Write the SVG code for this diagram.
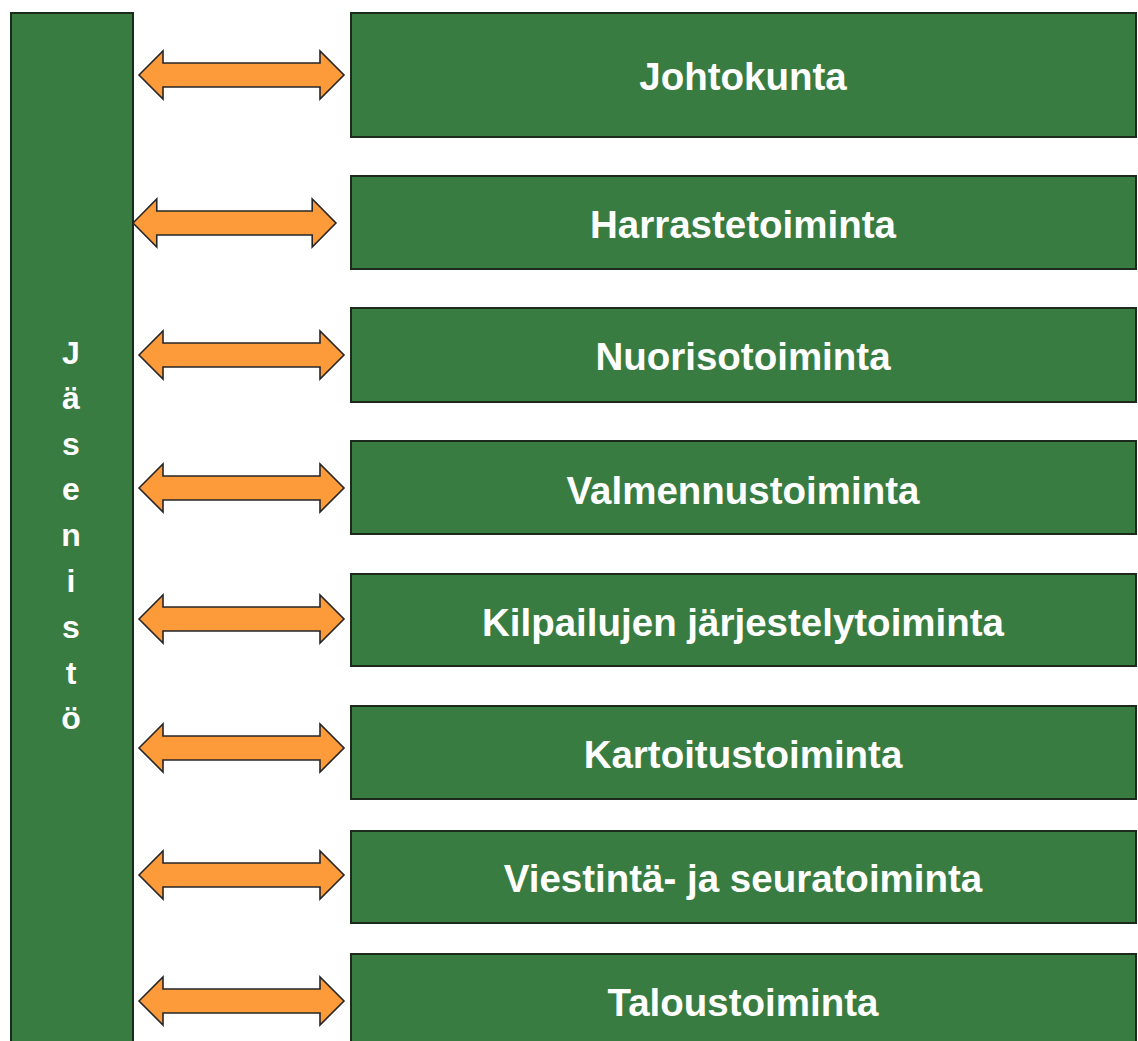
<svg xmlns="http://www.w3.org/2000/svg" width="1138" height="1041" viewBox="0 0 1138 1041">
<defs>
<style>
.box{fill:#387c41;stroke:#1c2a1c;stroke-width:2}
.lbl{font-family:"Liberation Sans",Arial,sans-serif;font-weight:bold;font-size:38.5px;fill:#ffffff;text-anchor:middle}
.vl{font-family:"Liberation Sans",Arial,sans-serif;font-weight:bold;font-size:32px;fill:#ffffff;text-anchor:middle}
.arr{fill:#fd9a3a;stroke:#262626;stroke-width:1.6;stroke-linejoin:miter}
</style>
<path id="dbl" class="arr" d="M0,0 L24,-24 L24,-12 L181,-12 L181,-24 L205,0 L181,24 L181,12 L24,12 L24,24 Z"/>
</defs>
<rect width="1138" height="1041" fill="#ffffff"/>
<g id="jasenisto">
<rect class="box" x="11" y="13" width="122" height="1040"/>
<text class="vl" x="71" y="364">J</text>
<text class="vl" x="71" y="409">ä</text>
<text class="vl" x="71" y="455">s</text>
<text class="vl" x="71" y="500">e</text>
<text class="vl" x="71" y="546">n</text>
<text class="vl" x="71" y="592">i</text>
<text class="vl" x="71" y="638">s</text>
<text class="vl" x="71" y="684">t</text>
<text class="vl" x="71" y="729">ö</text>
</g>
<g id="johtokunta">
<rect class="box" x="351" y="13" width="785" height="124"/>
<text class="lbl" x="743" y="90">Johtokunta</text>
</g>
<g id="harrastetoiminta">
<rect class="box" x="351" y="176" width="785" height="93"/>
<text class="lbl" x="743" y="238">Harrastetoiminta</text>
</g>
<g id="nuorisotoiminta">
<rect class="box" x="351" y="308" width="785" height="94"/>
<text class="lbl" x="743" y="370">Nuorisotoiminta</text>
</g>
<g id="valmennustoiminta">
<rect class="box" x="351" y="441" width="785" height="93"/>
<text class="lbl" x="743" y="504">Valmennustoiminta</text>
</g>
<g id="kilpailujen">
<rect class="box" x="351" y="574" width="785" height="92"/>
<text class="lbl" x="743" y="636">Kilpailujen järjestelytoiminta</text>
</g>
<g id="kartoitustoiminta">
<rect class="box" x="351" y="706" width="785" height="93"/>
<text class="lbl" x="743" y="768">Kartoitustoiminta</text>
</g>
<g id="viestinta">
<rect class="box" x="351" y="831" width="785" height="92"/>
<text class="lbl" x="743" y="892">Viestintä- ja seuratoiminta</text>
</g>
<g id="taloustoiminta">
<rect class="box" x="351" y="954" width="785" height="100"/>
<text class="lbl" x="743" y="1016">Taloustoiminta</text>
</g>
<g id="connectors">
<use href="#dbl" transform="translate(139,75)"/>
<use href="#dbl" transform="translate(133,223) scale(0.99,1)"/>
<use href="#dbl" transform="translate(139,355)"/>
<use href="#dbl" transform="translate(139,488)"/>
<use href="#dbl" transform="translate(139,619)"/>
<use href="#dbl" transform="translate(139,748)"/>
<use href="#dbl" transform="translate(139,875)"/>
<use href="#dbl" transform="translate(139,1001)"/>
</g>
</svg>
